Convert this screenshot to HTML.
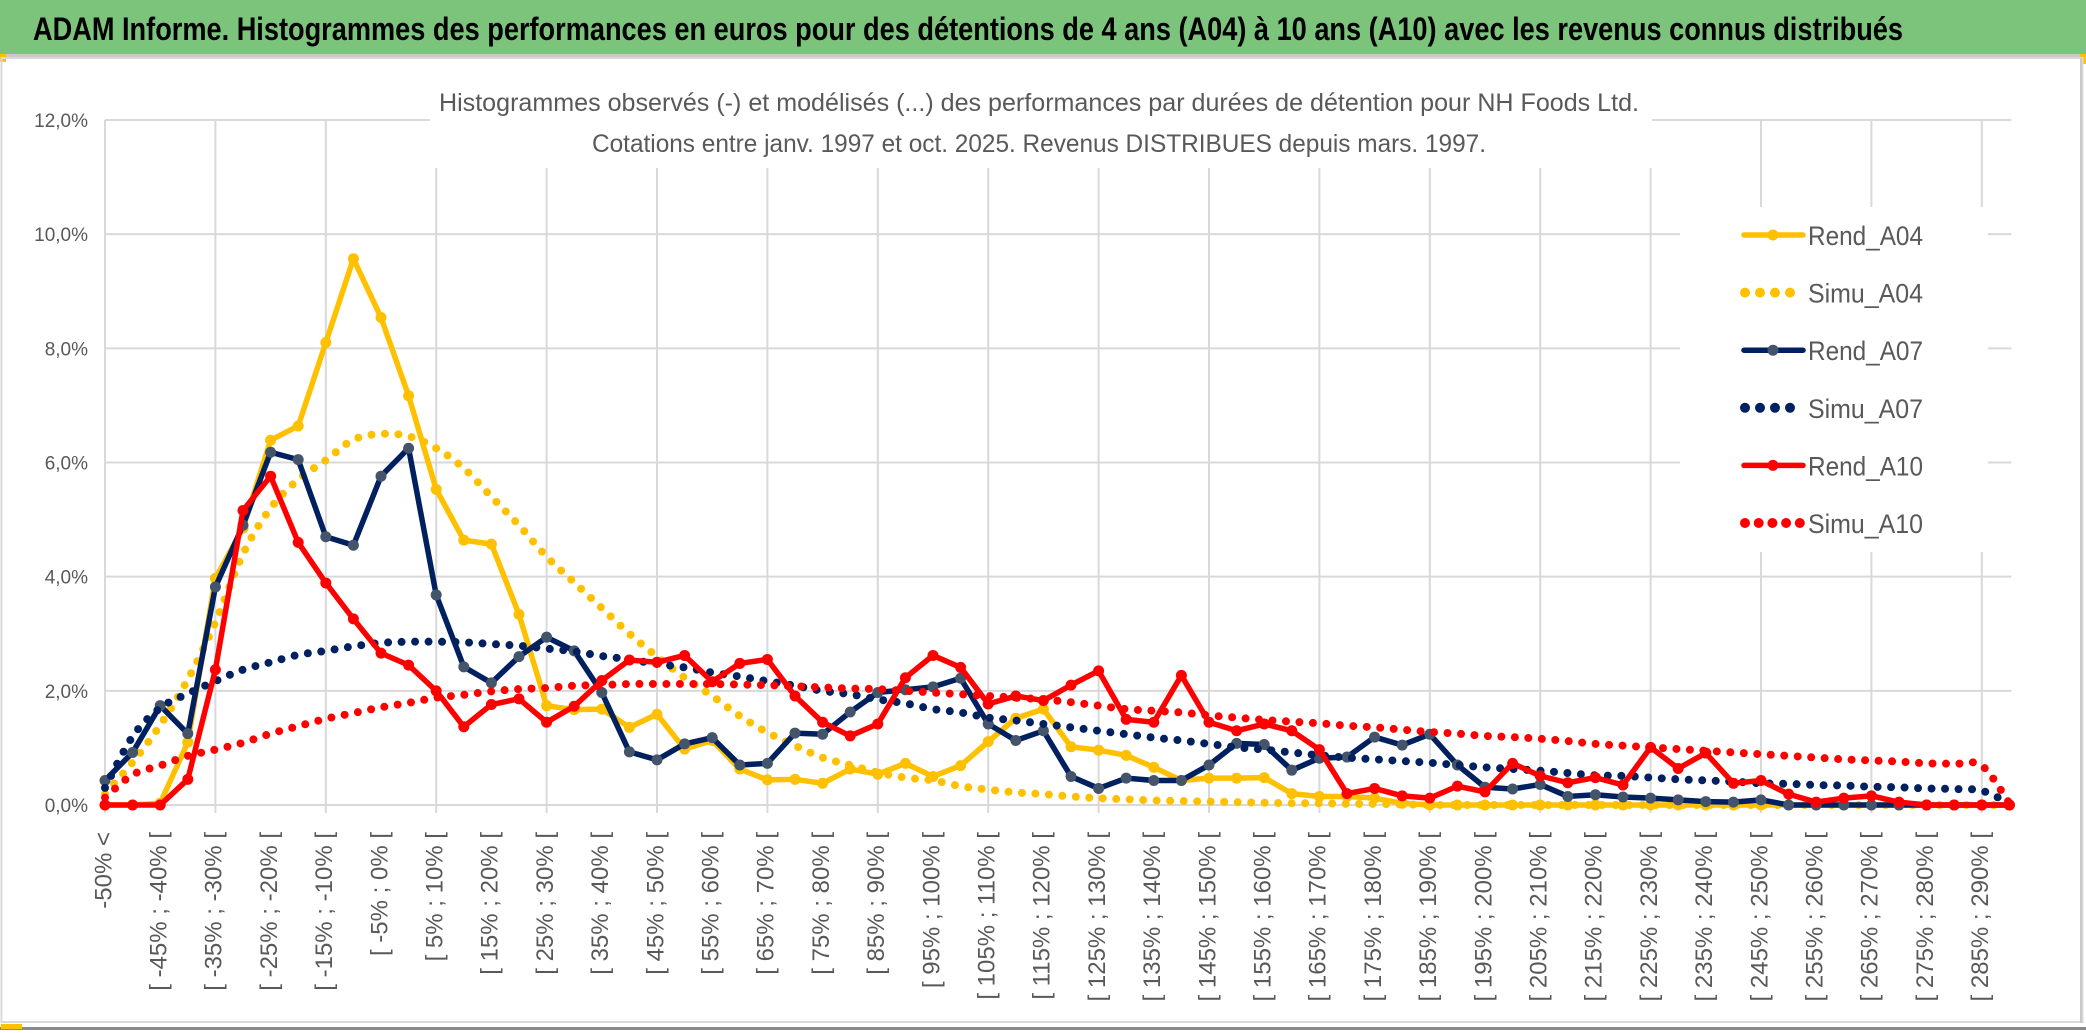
<!DOCTYPE html>
<html><head><meta charset="utf-8"><style>
html,body{margin:0;padding:0;background:#fff;}
svg{display:block;font-family:"Liberation Sans",sans-serif;}
</style></head><body>
<svg id="chart" width="2086" height="1033" viewBox="0 0 2086 1033" xmlns="http://www.w3.org/2000/svg">
<rect x="0" y="0" width="2086" height="1033" fill="#fff"/>
<rect x="0" y="0" width="2086" height="54" fill="#7cc47c"/>
<rect x="0" y="54" width="2086" height="3" fill="#c9c9c9"/>
<rect x="0" y="54" width="6" height="8" fill="#ffc000"/>
<rect x="2080" y="54" width="6" height="10" fill="#ffc000"/>
<text x="33" y="40" font-size="32" font-weight="bold" fill="#000" textLength="1870" lengthAdjust="spacingAndGlyphs">ADAM Informe. Histogrammes des performances en euros pour des détentions de 4 ans (A04) à 10 ans (A10) avec les revenus connus distribués</text>
<rect x="1.5" y="58" width="2081" height="964" fill="none" stroke="#d9d9d9" stroke-width="2"/>
<rect x="2080" y="58" width="2" height="965" fill="#c9c9c9"/>
<rect x="0" y="1027" width="2086" height="3" fill="#8a8a8a"/>
<rect x="1" y="1024" width="21" height="5" fill="#ffc000"/>
<g id="grid"></g>
<g id="yaxis"></g>
<g id="xaxis"></g>
<rect x="430" y="82" width="1222" height="86" fill="#fff"/>
<text x="1039" y="111" font-size="25" fill="#595959" text-anchor="middle" textLength="1200" lengthAdjust="spacingAndGlyphs">Histogrammes observés (-) et modélisés (...) des performances par durées de détention pour NH Foods Ltd.</text>
<text x="1039" y="152" font-size="25" fill="#595959" text-anchor="middle" textLength="894" lengthAdjust="spacingAndGlyphs">Cotations entre janv. 1997 et oct. 2025. Revenus DISTRIBUES depuis mars. 1997.</text>
<g id="series"></g>
<rect x="1680" y="207" width="308" height="345" fill="#fff"/>
<g id="legend"></g>
</svg>
<script>
const rendA04 = [0,0,0.03,1.1,3.97,4.85,6.39,6.64,8.1,9.57,8.54,7.17,5.53,4.64,4.57,3.34,1.74,1.67,1.68,1.36,1.59,0.98,1.13,0.63,0.44,0.45,0.38,0.63,0.54,0.73,0.5,0.69,1.11,1.52,1.68,1.02,0.96,0.87,0.66,0.43,0.47,0.47,0.48,0.2,0.15,0.15,0.12,0.03,0,0,0,0,0,0,0,0,0,0,0,0,0,0,0,0,0,0,0,0,0,0];
const simuA04 = [0.2,0.75,1.4,2.2,3.2,4.4,5.2,5.7,6.04,6.4,6.5,6.46,6.25,5.9,5.4,4.9,4.35,3.9,3.45,3.0,2.6,2.23,1.91,1.56,1.27,1.04,0.83,0.7,0.57,0.48,0.43,0.33,0.27,0.22,0.19,0.15,0.12,0.1,0.08,0.07,0.06,0.05,0.04,0.03,0.03,0.02,0.02,0.01,0,0,0,0,0,0,0,0,0,0,0,0,0,0,0,0,0,0,0,0,0,0];
const rendA07 = [0.43,0.92,1.74,1.25,3.82,4.9,6.18,6.05,4.7,4.55,5.76,6.25,3.68,2.42,2.14,2.6,2.94,2.7,1.97,0.93,0.79,1.07,1.18,0.7,0.73,1.26,1.24,1.63,1.97,2.02,2.07,2.22,1.42,1.13,1.3,0.5,0.29,0.47,0.43,0.43,0.7,1.08,1.06,0.61,0.82,0.84,1.19,1.05,1.24,0.7,0.31,0.28,0.36,0.15,0.18,0.14,0.12,0.09,0.06,0.05,0.09,0,0,0,0,0,0,0,0,0];
const simuA07 = [0.3,1.2,1.7,1.95,2.17,2.37,2.5,2.63,2.7,2.78,2.84,2.86,2.86,2.85,2.82,2.79,2.74,2.69,2.61,2.55,2.47,2.41,2.32,2.25,2.17,2.09,2.0,1.94,1.85,1.78,1.68,1.62,1.53,1.48,1.42,1.36,1.3,1.24,1.18,1.13,1.07,1.01,0.97,0.92,0.87,0.83,0.8,0.77,0.74,0.7,0.66,0.63,0.6,0.56,0.52,0.51,0.48,0.45,0.43,0.41,0.38,0.37,0.35,0.34,0.32,0.31,0.29,0.28,0.25,0.03];
const rendA10 = [0,0,0,0.45,2.37,5.16,5.76,4.6,3.89,3.26,2.66,2.45,2.0,1.37,1.76,1.86,1.45,1.73,2.18,2.54,2.5,2.62,2.16,2.48,2.55,1.91,1.45,1.21,1.42,2.23,2.62,2.41,1.77,1.91,1.83,2.1,2.35,1.5,1.45,2.27,1.45,1.3,1.42,1.3,0.97,0.2,0.29,0.16,0.12,0.33,0.23,0.73,0.51,0.39,0.48,0.35,1.01,0.64,0.91,0.38,0.43,0.19,0.05,0.12,0.16,0.05,0,0,0,0];
const simuA10 = [0.13,0.53,0.69,0.86,0.97,1.09,1.25,1.38,1.51,1.61,1.71,1.79,1.88,1.93,1.99,2.03,2.05,2.09,2.1,2.12,2.12,2.12,2.12,2.11,2.1,2.08,2.06,2.04,2.03,2.0,1.97,1.94,1.91,1.88,1.85,1.8,1.74,1.68,1.65,1.62,1.57,1.53,1.49,1.46,1.43,1.39,1.36,1.32,1.28,1.25,1.21,1.19,1.16,1.12,1.07,1.04,1.01,0.98,0.95,0.92,0.89,0.86,0.83,0.8,0.78,0.76,0.73,0.72,0.69,0.03];
const yTicks = [0,2,4,6,8,10,12];
const yTickLabels = ["0,0%","2,0%","4,0%","6,0%","8,0%","10,0%","12,0%"];
const categories = ["-50% <"];
for (let s = -50; s < 295; s += 5) categories.push("[ " + s + "% ; " + (s + 5) + "% [");
const legendNames = ["Rend_A04","Simu_A04","Rend_A07","Simu_A07","Rend_A10","Simu_A10"];

const NS = "http://www.w3.org/2000/svg";
const X0 = 105, STEP = 27.6, Y0 = 805, YTOP = 120, YMAX = 12;
function xPos(i){ return X0 + STEP * i; }
function yPos(v){ return Y0 - (v / YMAX) * (Y0 - YTOP); }
function mk(tag, attrs, parent){ const e = document.createElementNS(NS, tag); for (const k in attrs) e.setAttribute(k, attrs[k]); parent.appendChild(e); return e; }

const grid = document.getElementById('grid');
const xEnd = xPos(categories.length - 1) + 2;
yTicks.forEach((t, k) => {
  const l = mk('line', {x1: X0, x2: xEnd, y1: yPos(t), y2: yPos(t), stroke: '#d9d9d9', 'stroke-width': 2}, grid);
  
  
  const tx = mk('text', {x: 88, y: yPos(t) + 7, 'font-size': 19, fill: '#595959', 'text-anchor': 'end'}, document.getElementById('yaxis'));
  tx.textContent = yTickLabels[k];
  
  
});
for (let i = 0; i < categories.length; i += 4) {
  const l = mk('line', {x1: xPos(i), x2: xPos(i), y1: YTOP, y2: Y0 + 8, stroke: '#d9d9d9', 'stroke-width': 2}, grid);
  
  
}
const xaxis = document.getElementById('xaxis');
for (let i = 0; i < categories.length; i += 2) {
  const x = xPos(i), y = 832;
  const t = mk('text', {x: x, y: y, 'font-size': 24, fill: '#595959', 'text-anchor': 'end', 'dominant-baseline': 'middle', transform: 'rotate(-90 ' + x + ' ' + y + ')'}, xaxis);
  t.textContent = categories[i];
  
  
}

function smoothPath(vals){
  const p = vals.map((v, i) => [xPos(i), yPos(v)]);
  let d = 'M' + p[0][0] + ' ' + p[0][1];
  for (let i = 0; i < p.length - 1; i++) {
    const p0 = p[i-1] || p[i], p1 = p[i], p2 = p[i+1], p3 = p[i+2] || p2;
    const c1x = p1[0] + (p2[0]-p0[0])/6, c1y = p1[1] + (p2[1]-p0[1])/6;
    const c2x = p2[0] - (p3[0]-p1[0])/6, c2y = p2[1] - (p3[1]-p1[1])/6;
    d += ' C' + c1x + ' ' + c1y + ' ' + c2x + ' ' + c2y + ' ' + p2[0] + ' ' + p2[1];
  }
  return d;
}
const series = document.getElementById('series');
function drawRend(vals, color, mcolor, name){
  const g = mk('g', {}, series);
  
  
  const pl = mk('polyline', {points: vals.map((v, i) => xPos(i) + ',' + yPos(v)).join(' '), fill: 'none', stroke: color, 'stroke-width': 5.5, 'stroke-linejoin': 'round'}, g);
  
  
  vals.forEach((v, i) => {
    const c = mk('circle', {cx: xPos(i), cy: yPos(v), r: 5.5, fill: mcolor}, g);
    
    
  });
}
function drawSimu(vals, color, name){
  const p = mk('path', {d: smoothPath(vals), fill: 'none', stroke: color, 'stroke-width': 8, 'stroke-linecap': 'round', 'stroke-dasharray': '0 13.5'}, series);
  
  
}
drawRend(rendA04, '#ffc000', '#ffc000', 'rend-a04');
drawSimu(simuA04, '#ffc000', 'simu-a04');
drawRend(rendA07, '#002060', '#44546a', 'rend-a07');
drawSimu(simuA07, '#002060', 'simu-a07');
drawRend(rendA10, '#ff0000', '#ff0000', 'rend-a10');
drawSimu(simuA10, '#ff0000', 'simu-a10');

const legend = document.getElementById('legend');
const legColors = ['#ffc000','#ffc000','#002060','#002060','#ff0000','#ff0000'];
const legMarker = ['#ffc000','','#44546a','','#ff0000',''];
legendNames.forEach((n, k) => {
  const y = 235 + k * 57.6;
  const g = mk('g', {}, legend);
  
  
  if (k % 2 === 0) {
    mk('line', {x1: 1744, x2: 1803, y1: y, y2: y, stroke: legColors[k], 'stroke-width': 5.5, 'stroke-linecap': 'round'}, g);
    mk('circle', {cx: 1773, cy: y, r: 5.5, fill: legMarker[k]}, g);
  } else {
    const nd = k === 5 ? 5 : 4;
    for (let d = 0; d < nd; d++) mk('circle', {cx: 1745 + d * (k === 5 ? 13.7 : 15), cy: y, r: 5, fill: legColors[k]}, g);
  }
  const t = mk('text', {x: 1808, y: y + 10, 'font-size': 27, fill: '#595959', textLength: 115, lengthAdjust: 'spacingAndGlyphs'}, g);
  t.textContent = n;
});
</script>
</body></html>
